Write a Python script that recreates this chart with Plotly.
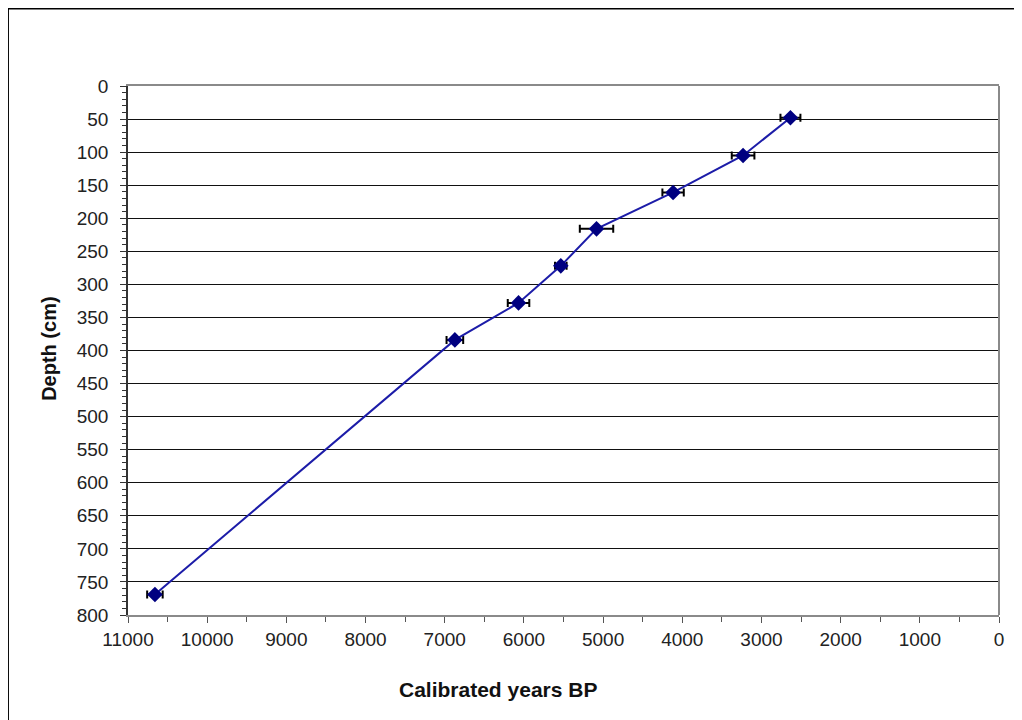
import plotly.graph_objects as go

# Data
years_bp = [2634, 3232, 4116, 5083, 5534, 6068, 6872, 10660]
depth_cm = [48, 105, 161, 216, 272, 328, 384, 769]
age_err = [126, 143, 135, 211, 73, 136, 105, 98]

x_tickvals = list(range(0, 11001, 1000))
y_tickvals = list(range(0, 801, 50))

FONT = "Liberation Sans, Arial, sans-serif"

fig = go.Figure()
fig.add_trace(go.Scatter(
    x=years_bp, y=depth_cm, mode="lines+markers",
    line=dict(color="#1c1ca8", width=2),
    marker=dict(symbol="diamond", size=12, color="#000080"),
    error_x=dict(type="data", array=age_err, symmetric=True,
                 color="black", thickness=2, width=4),
    showlegend=False,
))

fig.update_xaxes(
    range=[11000, 0], tickvals=x_tickvals, tickformat="d",
    ticks="outside", ticklen=6, tickcolor="#555", tickwidth=1,
    minor=dict(dtick=500, ticks="outside", ticklen=5, tickcolor="#555"),
    showline=True, linecolor="#8a8a8a", linewidth=1.5, mirror=True,
    showgrid=False, zeroline=False,
    tickfont=dict(family=FONT, size=19, color="#222"),
    ticklabelstandoff=0,
)
fig.update_yaxes(
    range=[800, 0], tickvals=y_tickvals, tickformat="d",
    ticks="outside", ticklen=6, tickcolor="#333", tickwidth=1,
    minor=dict(dtick=10, ticks="outside", ticklen=4, tickcolor="#333"),
    showline=True, linecolor="#333", linewidth=1.5,
    showgrid=True, gridcolor="#111", gridwidth=1,
    zeroline=False,
    tickfont=dict(family=FONT, size=19, color="#222"),
    ticklabelstandoff=8,
)

# page body has an 8px offset; work in page pixels minus 8
OX, OY = 8, 8
L, R, T, B = 128.3 - OX, 999.3 - OX, 85.7 - OY, 615 - OY
W, H = R - L, B - T

def px(xp):
    return (xp - OX - L) / W

def py(yp):
    return (B - (yp - OY)) / H

fig.add_annotation(text="<b>Calibrated years BP</b>", xref="paper", yref="paper",
                   x=px(498), y=py(690),
                   showarrow=False, xanchor="center", yanchor="middle",
                   font=dict(family=FONT, size=21, color="#111"))
fig.add_annotation(text="<b>Depth (cm)</b>", xref="paper", yref="paper",
                   x=px(49), y=py(349), textangle=-90,
                   showarrow=False, xanchor="center", yanchor="middle",
                   font=dict(family=FONT, size=20, color="#111"))

# right border of plot area (gray)
fig.add_shape(type="line", xref="paper", yref="paper", x0=1, x1=1, y0=0, y1=1,
              line=dict(color="#8a8a8a", width=2))
# outer chart frame
fig.add_shape(type="rect", xref="paper", yref="paper",
              x0=px(8.5), x1=px(1040), y0=py(740), y1=py(8.5),
              line=dict(color="black", width=1.5), fillcolor="rgba(0,0,0,0)")

fig.update_layout(
    width=1022 - OX, height=720 - OY,
    margin=dict(l=L, r=(1022 - OX) - R, t=T, b=(720 - OY) - B, autoexpand=False),
    paper_bgcolor="white", plot_bgcolor="white",
)

fig.write_html("out.html")
